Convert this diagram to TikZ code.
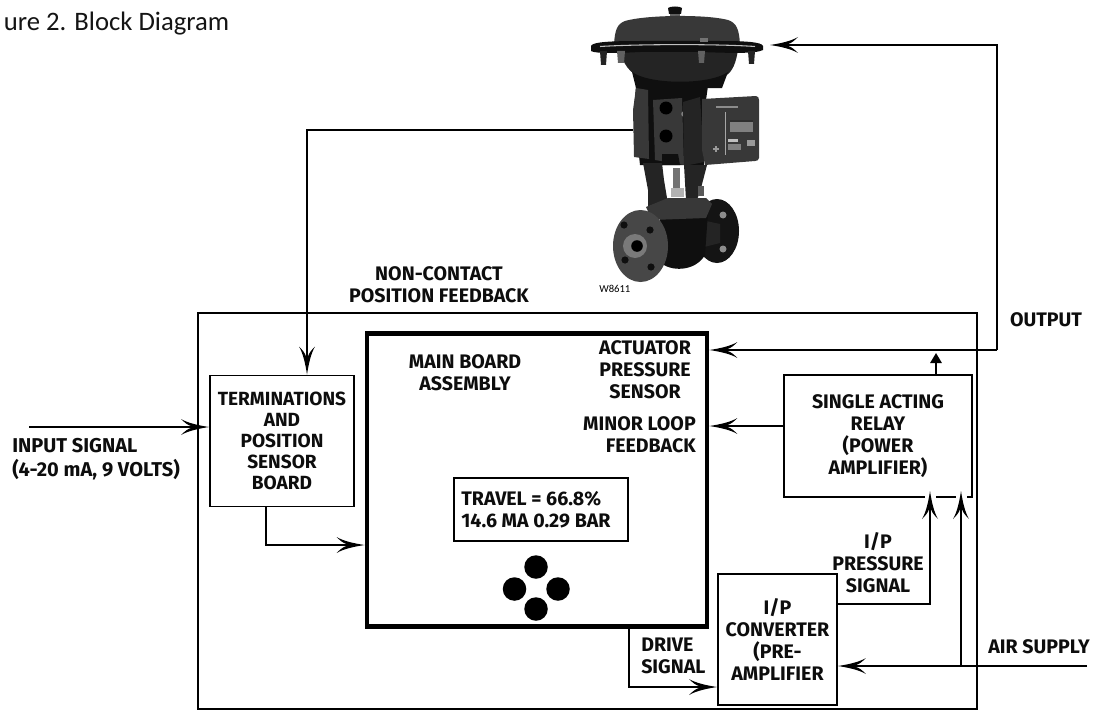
\documentclass[tikz,border=0pt]{standalone}
\usepackage{fontspec}
\setmainfont{Carlito}
\newfontfamily\labfont{Fira Sans}[UprightFont=* Bold]
\usetikzlibrary{arrows.meta,calc}
\pgfdeclarearrow{
  name=Fish,
  setup code={
    \pgfarrowssettipend{0pt}
    \pgfarrowssetlineend{-12pt}
    \pgfarrowssetvisualbackend{-21pt}
    \pgfarrowssetbackend{-21pt}
  },
  drawing code={
    \pgfpathmoveto{\pgfpoint{0pt}{0pt}}
    \pgfpathcurveto{\pgfpoint{-8pt}{1.2pt}}{\pgfpoint{-16pt}{3pt}}{\pgfpoint{-21pt}{6pt}}
    \pgfpathcurveto{\pgfpoint{-18pt}{3pt}}{\pgfpoint{-16pt}{1.5pt}}{\pgfpoint{-14pt}{0.9pt}}
    \pgfpathlineto{\pgfpoint{-14pt}{-0.9pt}}
    \pgfpathcurveto{\pgfpoint{-16pt}{-1.5pt}}{\pgfpoint{-18pt}{-3pt}}{\pgfpoint{-21pt}{-6pt}}
    \pgfpathcurveto{\pgfpoint{-16pt}{-3pt}}{\pgfpoint{-8pt}{-1.2pt}}{\pgfpoint{0pt}{0pt}}
    \pgfpathclose
    \pgfusepathqfill
  }
}
\tikzset{
  lab/.style={font=\labfont\fontsize{14.7pt}{16.5pt}\selectfont,align=center,inner sep=0pt,text=black!95},
  labl/.style={lab,align=left,anchor=west},
  labr/.style={lab,align=right,anchor=east},
  blk/.style={draw=black,line width=1.4pt,inner sep=0pt,lab,line join=miter},
  sig/.style={draw=black,line width=1.4pt,-{Fish}},
  dot/.style={circle,fill=black,minimum size=23.5pt*0.75,inner sep=0pt},
  m1/.style={fill=black!78},
  m2/.style={fill=black!86},
  m3/.style={fill=black!62},
  m4/.style={fill=black!94},
}
\begin{document}
\begin{tikzpicture}[x=0.75pt,y=-0.75pt]
\useasboundingbox (0,0) rectangle (1094,710);
% ---- valve picture
\begin{scope}[line join=round]
% top cap
\fill[m4] (668,8) -- (669,14) -- (681,14) -- (682,8) .. controls (680,6) and (670,6) .. (668,8) -- cycle;
\fill[m3] (670,14) rectangle (680,19);
% dome
\fill[m1] (614,44) .. controls (615,30) and (617,24) .. (625,21) .. controls (645,15) and (705,14) .. (728,20) .. controls (737,23) and (739,30) .. (740,44) -- cycle;
% lower dome
\fill[m2] (620,50) -- (738,50) .. controls (736,62) and (733,72) .. (725,76) .. controls (710,85) and (655,86) .. (640,78) .. controls (630,72) and (623,65) .. (620,50) -- cycle;
\fill[m4] (632,72) .. controls (650,85) and (710,85) .. (728,72) -- (722,88) -- (636,88) -- cycle;
% flange
\fill[m4] (591,46) .. controls (592,42) and (610,41) .. (640,41) -- (720,41) .. controls (745,41) and (762,42) .. (763,46) -- (763,50) .. controls (755,54) and (730,53) .. (700,52) -- (640,52) .. controls (620,53) and (596,54) .. (591,51) -- cycle;
\draw[black!25,line width=0.8pt] (600,46.5) .. controls (640,44) and (720,44) .. (755,46.5);
% flange bolts
\fill[m2] (600,51) -- (607,51) -- (606,65) -- (601,65) -- cycle;
\fill[m3] (617,51) -- (625,51) -- (624,63) -- (618,63) -- cycle;
\fill[m3] (698,51) -- (705,51) -- (704,63) -- (699,63) -- cycle;
\fill[m2] (748,51) -- (755,51) -- (754,64) -- (749,64) -- cycle;
\fill[black!55] (700,38) rectangle (708,42);
% dark mass behind yoke and mounting
\fill[m4] (636,86) -- (708,86) -- (706,100) -- (704,165) -- (640,165) -- (634,110) -- cycle;
% left block
\fill[m1] (636,88) -- (648,90) -- (649,159) -- (634,157) -- (633,110) -- cycle;
% mount block
\fill[m1] (653,100) -- (682,98) -- (684,165) -- (655,160) -- cycle;
\fill[black] (666,108) circle[radius=6.5];
\fill[black] (666,136) circle[radius=6.5];
\fill[m4] (662,154) -- (678,154) -- (680,165) -- (662,165) -- cycle;
\fill[black!50] (684,114) circle[radius=2.8];
% positioner side
\fill[m2] (683,102) -- (700,97) -- (704,162) -- (684,166) -- cycle;
% positioner front
\fill[m1] (702,99) -- (756,96) .. controls (758,96) and (759,98) .. (759,100) -- (759,158) .. controls (759,160) and (757,161) .. (755,161) -- (705,165) -- (702,150) -- cycle;
\fill[black!35] (724.5,112) rectangle (726,155);
\fill[black!50] (730,120) rectangle (753,132);
\fill[black!82] (730,120) rectangle (753,122);
\fill[black!25] (728,139) rectangle (738,142);
\fill[black!50] (728,144) rectangle (741,150);
\fill[black!40] (747,140) rectangle (755,146);
\fill[black!40] (715,146) rectangle (717,152);
\fill[black!40] (713,148) rectangle (719,150);
\fill[black!45] (716,106) rectangle (738,107.5);
% yoke legs
\fill[m2] (643,163) -- (662,163) -- (664,180) -- (668,204) -- (648,206) -- (648,190) -- cycle;
\fill[m2] (684,165) -- (707,165) -- (700,192) -- (696,202) -- (686,200) -- cycle;
\fill[black!55] (673,168) rectangle (680,188);
\fill[black!30] (671,188) rectangle (684,197);
\fill[black!65] (698,186) rectangle (704,196);
% right flange
\fill[black!92] (717,231) ellipse[x radius=22,y radius=32];
\fill[black!45] (723,215) circle[radius=3.5];
\fill[black!45] (723,249) circle[radius=3.5];
\fill[m2] (692,218) -- (720,224) -- (720,243) -- (692,250) -- cycle;
% body
\fill[m4] (660,214) -- (708,212) -- (705,255) .. controls (695,272) and (670,272) .. (660,262) -- cycle;
% bonnet
\fill[m1] (646,207) -- (668,198) -- (706,198) -- (712,204) -- (706,218) -- (652,220) -- cycle;
% left flange
\fill[black!72] (640.5,246) ellipse[x radius=27.5,y radius=36];
\fill[black!52] (635,246) circle[radius=12];
\fill[black] (637,246) circle[radius=5.8];
\fill[black!94] (624,225) circle[radius=3.6];
\fill[black!94] (650,230) circle[radius=3.6];
\fill[black!94] (625,260) circle[radius=3.6];
\fill[black!94] (651,267) circle[radius=3.6];
\end{scope}
\node[font=\fontsize{8pt}{9pt}\selectfont,inner sep=0pt,anchor=west] (code) at (599,289) {W8611};
% ---- title
\node[font=\fontsize{20pt}{22pt}\selectfont,inner sep=0pt,anchor=east,text=black!92] (title) at (229.5,24) {ure 2. Block Diagram};
% ---- blocks
\draw[line width=1.2pt] (198,313) rectangle (977,709);
\node[draw=black,line width=3.6pt,minimum width=340pt*0.75,minimum height=293pt*0.75,inner sep=0pt] (main) at (537,480) {};
\node[blk,font=\labfont\fontsize{14.3pt}{15.8pt}\selectfont,minimum width=144*0.75pt,minimum height=131*0.75pt] (term) at (282,441) {TERMINATIONS\\AND\\POSITION\\SENSOR\\BOARD};
\node[blk,minimum width=188*0.75pt,minimum height=122*0.75pt] (relay) at (878,436) {SINGLE ACTING\\RELAY\\(POWER\\AMPLIFIER)};
\node[blk,minimum width=119*0.75pt,minimum height=131*0.75pt] (conv) at (777.5,639.5) {I/P\\CONVERTER\\(PRE-\\AMPLIFIER};
\node[blk,minimum width=174*0.75pt,minimum height=63*0.75pt] (disp) at (541,509.5) {};
\node[labl,anchor=west] (disptxt) at (disp.west) [xshift=6pt] {TRAVEL = 66.8\%\\14.6 MA 0.29 BAR};
% ---- keypad
\node[dot] (k1) at (536,567) {};
\node[dot] (k2) at (514.5,589) {};
\node[dot] (k3) at (558,589) {};
\node[dot] (k4) at (536,609) {};
% ---- labels
\node[lab] (nc) at (439,284.5) {NON-CONTACT\\POSITION FEEDBACK};
\node[lab] (mb) at (465,373) {MAIN BOARD\\ASSEMBLY};
\node[lab] (aps) at (645,369.5) {ACTUATOR\\PRESSURE\\SENSOR};
\node[labr] (ml) at (696,434.5) {MINOR LOOP\\FEEDBACK};
\node[lab] (ips) at (878,562.5) {I/P\\PRESSURE\\SIGNAL};
\node[labl] (ds) at (641,656) {DRIVE\\SIGNAL};
\node[labl] (as) at (988,647) {AIR SUPPLY};
\node[lab] (op) at (1046,320) {OUTPUT};
\node[labl,font=\labfont\fontsize{15pt}{17.5pt}\selectfont] (isl) at (12,459) {INPUT SIGNAL\\(4-20 mA, 9 VOLTS)};
% ---- connector end points
\coordinate (inS) at (29,427);
\coordinate (fbS) at (633,130);
\coordinate (fbC) at (307,130);
\coordinate (outT) at (770,45);
\coordinate (outC) at (997,45);
\coordinate (outB) at (997,350);
\coordinate (airS) at (1087,666);
\coordinate (airB) at (961,666);
\coordinate (pT) at (930,491);
\coordinate (aT) at (961,491);
\coordinate (tb) at (266,545);
\coordinate (db) at (629,687);
\coordinate (pc) at (930,604);
% ---- gaps in relay bottom
\draw[white,line width=4pt] (pT|-relay.south) ++(-5,0) -- ++(11,0);
\draw[white,line width=4pt] (aT|-relay.south) ++(-5,0) -- ++(11,0);
% ---- connectors
\draw[sig] (inS) -- (inS-|term.west);
\draw[sig] (fbS) -- (fbC) -- (fbC|-term.north);
\draw[sig] (tb|-term.south) -- (tb) -- (tb-|main.west);
\draw[sig] (db|-main.south) -- (db) -- (db-|conv.west);
\draw[sig] (pc-|conv.east) -- (pc) -- (pT);
\draw[sig] (airS) -- (airS-|conv.east);
\draw[sig] (airB) -- (aT);
\draw[sig] (outB) -- (outC) -- (outT);
\draw[sig] (outB) -- (outB-|main.east);
\draw[sig] (relay.west|-0,426) -- (main.east|-0,426);
\draw[line width=1.4pt,-{Triangle[length=7.5pt,width=8.5pt]}] (936,375) -- (936,353);
\end{tikzpicture}
\end{document}
